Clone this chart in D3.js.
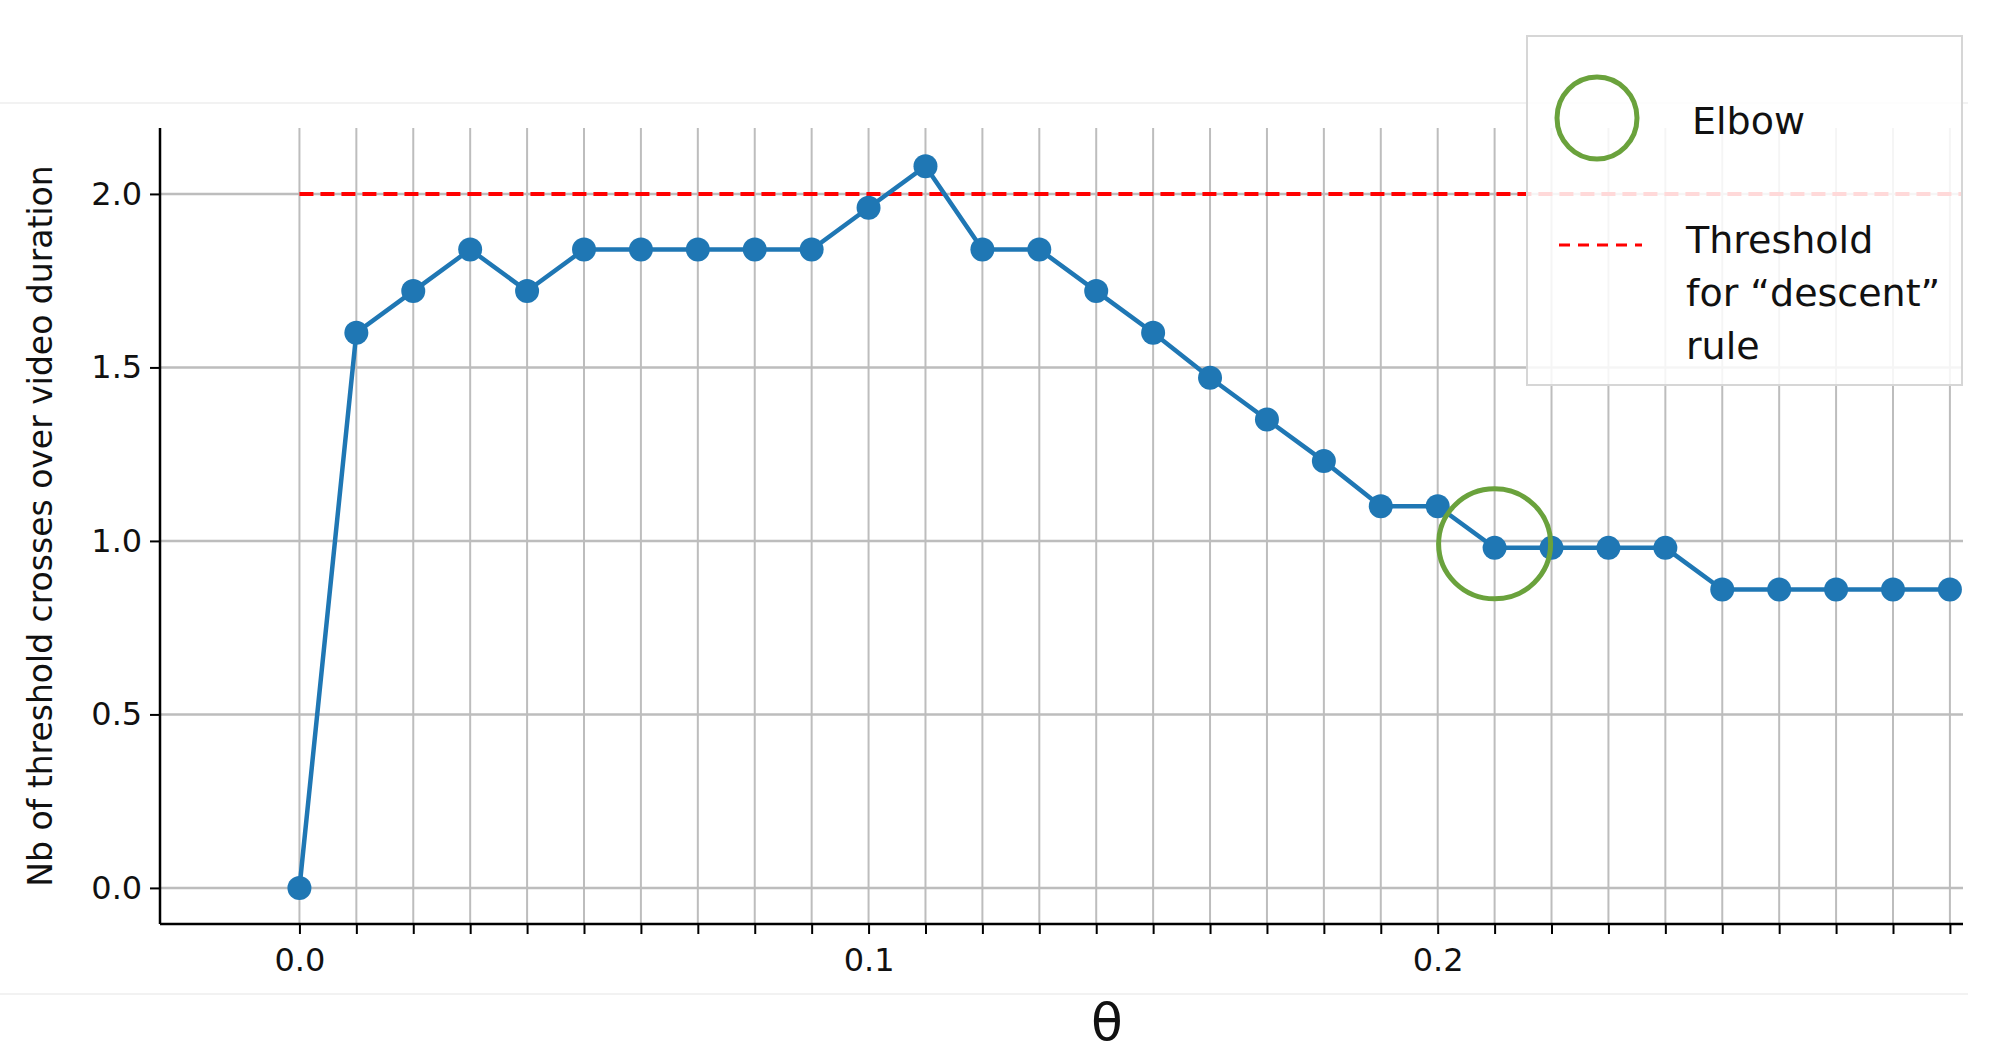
<!DOCTYPE html>
<html><head><meta charset="utf-8">
<script src="https://cdn.jsdelivr.net/npm/d3@7"></script>
<style>body{margin:0;background:#fff}svg{display:block}text{font-family:"DejaVu Sans",sans-serif}</style>
</head><body><svg id="c" width="2002" height="1061"></svg>
<script>
const thetas = d3.range(30).map(i => +(i*0.01).toFixed(2));
const crosses = [0,1.6,1.72,1.84,1.72,1.84,1.84,1.84,1.84,1.84,1.96,2.08,1.84,1.84,1.72,1.6,1.47,1.35,1.23,1.10,1.10,0.98,0.98,0.98,0.98,0.86,0.86,0.86,0.86,0.86];
const thresholdValue = 2.0;
const elbowTheta = 0.21, elbowValue = 0.98;
const xTickLabels = [0.0, 0.1, 0.2];
const yTickLabels = [0.0, 0.5, 1.0, 1.5, 2.0];

const svg = d3.select("#c");
const L=160, R=1963, T=128, B=924;
const x = d3.scaleLinear().domain([-0.0245,0.2923]).range([L,R]);
const y = d3.scaleLinear().domain([-0.104,2.19]).range([B,T]);

[103,994].forEach(yy=>svg.append("line").attr("x1",0).attr("x2",1968).attr("y1",yy).attr("y2",yy).attr("stroke","#eee").attr("stroke-width",1.5));

const g = svg.append("g");
thetas.forEach(t=>g.append("line").attr("x1",x(t)).attr("x2",x(t)).attr("y1",T).attr("y2",B).attr("stroke","#bdbdbd").attr("stroke-width",2));
yTickLabels.forEach(v=>g.append("line").attr("x1",L).attr("x2",R).attr("y1",y(v)).attr("y2",y(v)).attr("stroke","#bdbdbd").attr("stroke-width",2.5));

g.append("line").attr("x1",x(0)).attr("x2",R).attr("y1",y(thresholdValue)).attr("y2",y(thresholdValue))
 .attr("stroke","#ff0000").attr("stroke-width",4).attr("stroke-dasharray","14,7");

const line = d3.line().x((d,i)=>x(thetas[i])).y(d=>y(d));
g.append("path").datum(crosses).attr("d",line).attr("fill","none").attr("stroke","#1f77b4").attr("stroke-width",4.5);
g.selectAll("circle.pt").data(crosses).join("circle").attr("class","pt")
 .attr("cx",(d,i)=>x(thetas[i])).attr("cy",d=>y(d)).attr("r",12).attr("fill","#1f77b4");

g.append("ellipse").attr("cx",x(elbowTheta)).attr("cy",y(elbowValue)-4).attr("rx",56).attr("ry",55)
 .attr("fill","none").attr("stroke","#6aa23c").attr("stroke-width",5);

const xAxis = d3.axisBottom(x).tickValues(thetas).tickSize(10).tickFormat(d=>xTickLabels.includes(d)?d.toFixed(1):"");
const xa = svg.append("g").attr("transform",`translate(0,${B})`).call(xAxis);
xa.select(".domain").attr("d",`M${L},0H${R}`).attr("stroke","#000").attr("stroke-width",2.5);
xa.selectAll(".tick line").attr("stroke","#000").attr("stroke-width",2);
xa.selectAll(".tick text").attr("font-size",32).attr("fill","#111").attr("dy","1.05em");
const yAxis = d3.axisLeft(y).tickValues(yTickLabels).tickSize(10).tickFormat(d3.format(".1f"));
const ya = svg.append("g").attr("transform",`translate(${L},0)`).call(yAxis);
ya.select(".domain").attr("d",`M0,${T}V${B}`).attr("stroke","#000").attr("stroke-width",2.5);
ya.selectAll(".tick line").attr("stroke","#000").attr("stroke-width",2);
ya.selectAll(".tick text").attr("font-size",32).attr("fill","#111").attr("dx","-0.15em");

svg.append("text").attr("transform","translate(52,526) rotate(-90)").attr("text-anchor","middle")
 .attr("font-size",33).attr("fill","#111").text("Nb of threshold crosses over video duration");
svg.append("text").attr("x",1107).attr("y",1040).attr("text-anchor","middle").attr("font-size",52)
 .attr("font-family","Liberation Serif, serif").attr("fill","#111").text("θ");

const lg = svg.append("g");
lg.append("rect").attr("x",1527).attr("y",36).attr("width",435).attr("height",349)
 .attr("fill","#fff").attr("fill-opacity",0.85).attr("stroke","#d6d6d6").attr("stroke-width",2);
lg.append("ellipse").attr("cx",1597).attr("cy",118).attr("rx",40).attr("ry",41).attr("fill","none").attr("stroke","#6aa23c").attr("stroke-width",5);
lg.append("text").attr("x",1692).attr("y",134).attr("font-size",38).attr("font-family","Liberation Sans, Arial, sans-serif").attr("fill","#111").text("Elbow");
lg.append("line").attr("x1",1559).attr("x2",1642).attr("y1",245).attr("y2",245).attr("stroke","#ff0000").attr("stroke-width",3).attr("stroke-dasharray","11,8");
["Threshold","for “descent”","rule"].forEach((t,i)=>lg.append("text").attr("x",1686).attr("y",253+i*53)
 .attr("font-size",38).attr("font-family","Liberation Sans, Arial, sans-serif").attr("fill","#111").text(t));
</script></body></html>
